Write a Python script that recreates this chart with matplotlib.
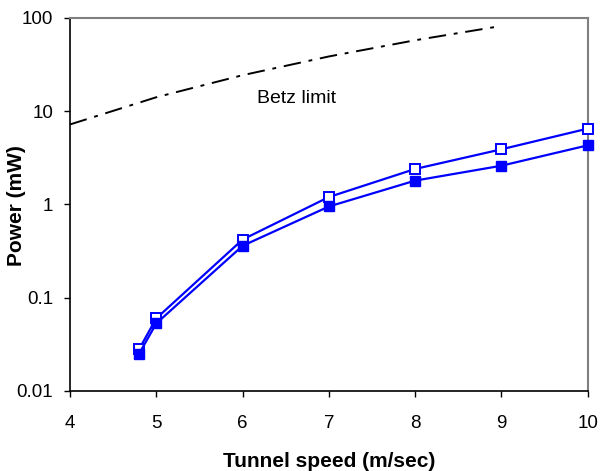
import matplotlib
matplotlib.use("Agg")
import matplotlib.pyplot as plt
from matplotlib.ticker import FixedLocator, NullLocator

plt.rcParams['font.family'] = ['Liberation Sans', 'DejaVu Sans']

speed = [4.8, 5, 6, 7, 8, 9, 10]
power_open = [0.028, 0.060, 0.42, 1.2, 2.4, 3.9, 6.5]
power_filled = [0.025, 0.053, 0.36, 0.95, 1.8, 2.6, 4.3]
betz_speed = [4, 5, 6, 7, 8, 9]
betz_power = [7.2, 14.1, 24.3, 38.6, 57.6, 82.0]
yticks = [0.01, 0.1, 1, 10, 100]
ytick_labels = ['0.01', '0.1', '1', '10', '100']
xticks = [4, 5, 6, 7, 8, 9, 10]

fig = plt.figure(figsize=(6.01, 4.71), dpi=100)
ax = fig.add_axes([0.1165, 0.170, 0.8615, 0.792])

ax.plot(betz_speed, betz_power, color='black', lw=1.4,
        dashes=(9, 4, 2, 4), zorder=2)
ax.plot(speed, power_open, color='#0000ff', lw=1.6, marker='s', ms=7.5,
        mfc='white', mec='#0000ff', mew=1.4, zorder=3, clip_on=False)
ax.plot(speed, power_filled, color='#0000ff', lw=1.6, marker='s', ms=7.5,
        mfc='#0000ff', mec='#0000ff', zorder=4, clip_on=False)

ax.text(6.17, 13.7, 'Betz limit', fontsize=14, va='center', ha='left')

ax.set_yscale('log')
ax.set_xlim(4, 10)
ax.set_ylim(0.01, 100)
ax.yaxis.set_major_locator(FixedLocator(yticks))
ax.yaxis.set_minor_locator(NullLocator())
ax.set_yticklabels(ytick_labels)
ax.set_xticks(xticks)
ax.set_xticklabels([str(v) for v in xticks])

ax.tick_params(axis='both', direction='out', length=4, width=1,
               labelsize=13.5, colors='black')
ax.tick_params(axis='y', pad=8)
ax.tick_params(axis='x', pad=13.5)

for s in ['left', 'bottom']:
    ax.spines[s].set_color('black')
    ax.spines[s].set_linewidth(1.2)
for s in ['top', 'right']:
    ax.spines[s].set_color('#808080')
    ax.spines[s].set_linewidth(1.5)

ax.set_xlabel('Tunnel speed (m/sec)', fontsize=15, fontweight='bold', labelpad=14)
ax.set_ylabel('Power (mW)', fontsize=15, fontweight='bold')
ax.yaxis.label.set_va('center')
ax.yaxis.set_label_coords(-0.103, 0.496)

fig.savefig('out.png', dpi=100)
